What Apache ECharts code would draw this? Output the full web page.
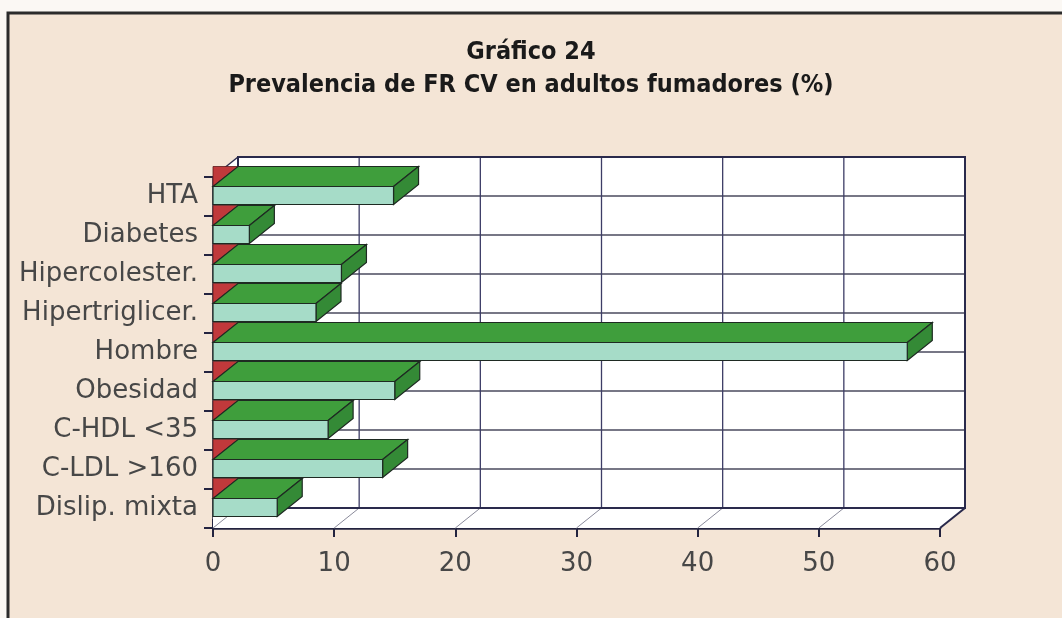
<!DOCTYPE html>
<html>
<head>
<meta charset="utf-8">
<script src="https://cdn.jsdelivr.net/npm/echarts@6/dist/echarts.min.js"></script>
<style>
  html, body { margin: 0; padding: 0; background: #fbf8f4; }
  #chart { width: 1062px; height: 618px; }
</style>
</head>
<body>
<div id="chart"></div>
<script>
  // datos
  const categories = ['HTA', 'Diabetes', 'Hipercolester.', 'Hipertriglicer.', 'Hombre',
    'Obesidad', 'C-HDL <35', 'C-LDL >160', 'Dislip. mixta'];
  const fumadores = [14.9, 3.0, 10.6, 8.5, 57.3, 15.0, 9.5, 14.0, 5.3];
  const xTicks = [0, 10, 20, 30, 40, 50, 60];

  const DX = 25, DY = -20;   // profundidad 3D
  const HALF = 9;            // media altura de la cara frontal

  const chart = echarts.init(document.getElementById('chart'));

  // pared del fondo, suelo y lineas de rejilla
  function renderWall(params, api) {
    const band = api.size([0, 1])[1];
    const xMax = xTicks[xTicks.length - 1];
    const tl = api.coord([0, 0]); tl[1] -= band / 2;
    const br = api.coord([xMax, categories.length - 1]); br[1] += band / 2;
    const line = (x1, y1, x2, y2, color, w) => ({
      type: 'line', shape: {x1: x1, y1: y1, x2: x2, y2: y2},
      style: {stroke: color, lineWidth: w}
    });
    const kids = [];
    // fondo blanco
    kids.push({type: 'rect', shape: {x: tl[0] + DX, y: tl[1] + DY, width: br[0] - tl[0], height: br[1] - tl[1]},
      style: {fill: '#fff'}});
    kids.push({type: 'polygon', shape: {points: [[tl[0], br[1]], [br[0], br[1]], [br[0] + DX, br[1] + DY], [tl[0] + DX, br[1] + DY]]},
      style: {fill: '#fff'}});
    kids.push({type: 'polygon', shape: {points: [[tl[0], tl[1]], [tl[0] + DX, tl[1] + DY], [tl[0] + DX, br[1] + DY], [tl[0], br[1]]]},
      style: {fill: '#fff'}});
    // lineas horizontales del fondo
    for (let i = 1; i < categories.length; i++) {
      const y = tl[1] + band * i + DY;
      kids.push(line(tl[0] + DX, y, br[0] + DX, y, '#4a4a5e', 1.3));
    }
    // lineas verticales y del suelo
    xTicks.forEach(function (t, i) {
      const p = api.coord([t, 0]);
      if (i > 0 && i < xTicks.length - 1) {
        kids.push(line(p[0] + DX, tl[1] + DY, p[0] + DX, br[1] + DY, '#3d3d66', 1.3));
      }
      kids.push(line(p[0], br[1], p[0] + DX, br[1] + DY, '#8a8a9a', 1));
    });
    // bordes
    kids.push({type: 'rect', shape: {x: tl[0] + DX, y: tl[1] + DY, width: br[0] - tl[0], height: br[1] - tl[1]},
      style: {fill: null, stroke: '#2a2a4c', lineWidth: 2}});
    kids.push(line(tl[0], tl[1], tl[0] + DX, tl[1] + DY, '#2a2a4c', 1.5));
    kids.push(line(br[0], br[1], br[0] + DX, br[1] + DY, '#2a2a4c', 2));
    return {type: 'group', children: kids};
  }

  // barras 3D
  function renderBar(params, api) {
    const c = api.value(1);
    const p0 = api.coord([0, c]);
    const p1 = api.coord([api.value(0), c]);
    const ft = p0[1] - HALF - 1, fb = p0[1] + HALF - 1;
    const stroke = {stroke: '#1e2a22', lineWidth: 1.2};
    return {
      type: 'group',
      children: [
        {type: 'polygon', shape: {points: [[p0[0], ft + DY], [p0[0] + DX, ft + DY], [p0[0], ft]]},
          style: {fill: '#c0393b', stroke: '#5a1a1a', lineWidth: 0.8}},
        {type: 'polygon', shape: {points: [[p0[0], ft], [p1[0], ft], [p1[0] + DX, ft + DY], [p0[0] + DX, ft + DY]]},
          style: Object.assign({fill: '#3f9e3c'}, stroke)},
        {type: 'polygon', shape: {points: [[p1[0], ft], [p1[0] + DX, ft + DY], [p1[0] + DX, fb + DY], [p1[0], fb]]},
          style: Object.assign({fill: '#348a36'}, stroke)},
        {type: 'rect', shape: {x: p0[0], y: ft, width: p1[0] - p0[0], height: fb - ft},
          style: Object.assign({fill: '#a6dcc8'}, stroke)}
      ]
    };
  }

  const labelFont = {fontFamily: 'DejaVu Sans', fontSize: 26, color: '#474747'};

  chart.setOption({
    backgroundColor: '#fbf8f4',
    animation: false,
    title: {
      text: 'Gráfico 24\nPrevalencia de FR CV en adultos fumadores (%)',
      left: 'center',
      top: 31,
      textStyle: {
        fontFamily: '"Liberation Sans Narrow", "DejaVu Sans Condensed", sans-serif',
        fontWeight: 'bold', fontSize: 25, lineHeight: 33, color: '#1a1a1a'
      }
    },
    graphic: [{
      type: 'rect', z: -10, silent: true,
      shape: {x: 8, y: 13, width: 1070, height: 620},
      style: {fill: '#f4e5d6', stroke: '#2b2b2b', lineWidth: 3}
    }],
    grid: {left: 213, right: 122, top: 177, bottom: 90},
    xAxis: [{
      type: 'value', min: 0, max: 60, interval: 10,
      axisLine: {show: true, lineStyle: {color: '#23233f', width: 2.5}},
      axisTick: {show: true, length: 9, lineStyle: {color: '#23233f', width: 2}},
      axisLabel: Object.assign({margin: 23}, labelFont),
      splitLine: {show: false}
    }, {
      type: 'value', min: 0, max: 60, interval: 10, position: 'bottom',
      axisLine: {show: false},
      axisTick: {show: true, inside: true, length: 9, lineStyle: {color: '#23233f', width: 2}},
      axisLabel: {show: false},
      splitLine: {show: false}
    }],
    yAxis: {
      type: 'category', inverse: true, data: categories,
      axisLine: {show: true, lineStyle: {color: '#23233f', width: 2.5}},
      axisTick: {show: true, length: 9, lineStyle: {color: '#23233f', width: 2}},
      axisLabel: Object.assign({margin: 15}, labelFont),
      splitLine: {show: false}
    },
    series: [{
      type: 'custom', name: 'pared', renderItem: renderWall, clip: false, z: 1,
      data: [[0, 0]], encode: {x: 0, y: 1}, silent: true
    }, {
      type: 'custom', name: 'Fumadores', renderItem: renderBar, clip: false, z: 3,
      data: fumadores.map(function (v, i) { return [v, i]; }),
      encode: {x: 0, y: 1}
    }]
  });
</script>
</body>
</html>
